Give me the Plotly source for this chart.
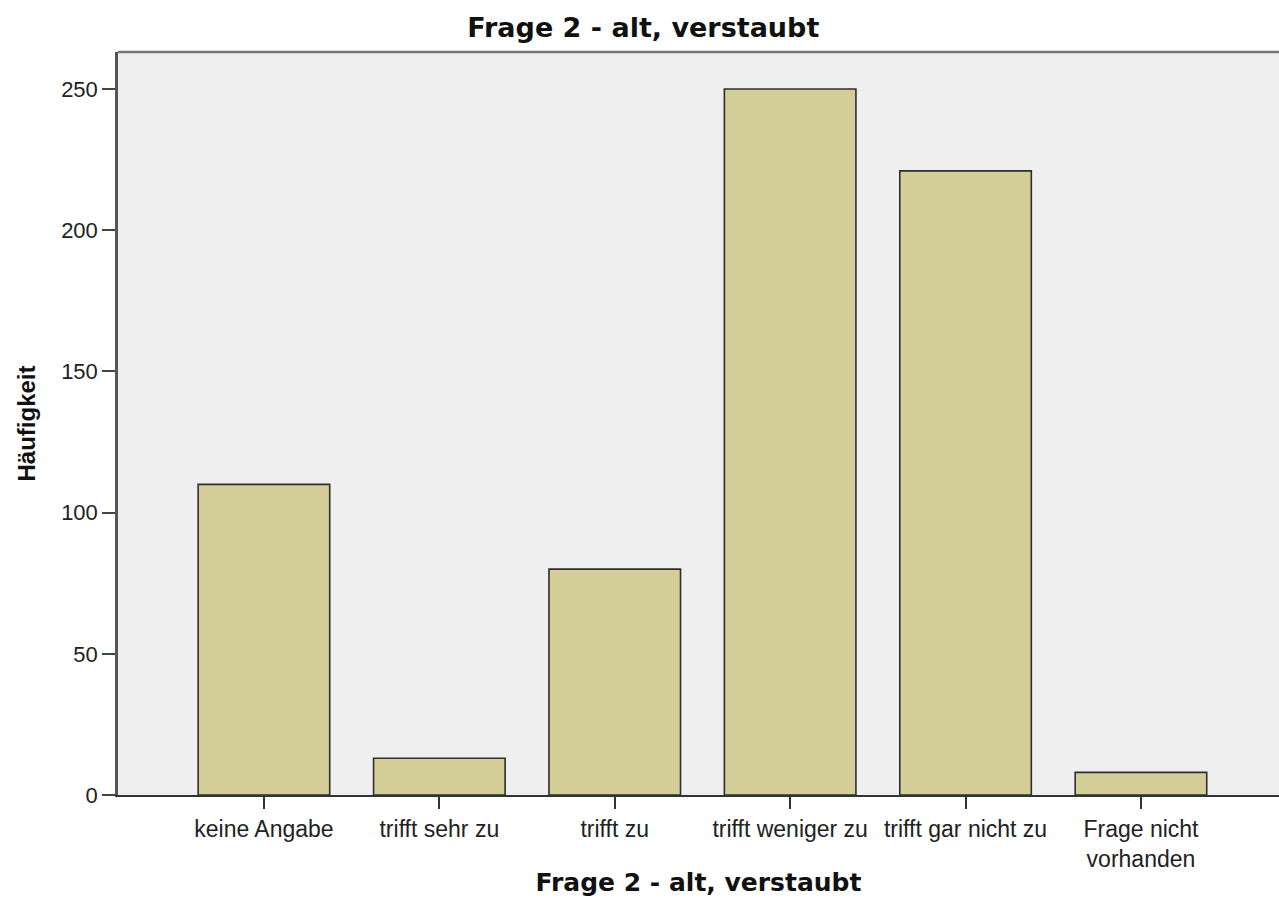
import plotly.graph_objects as go

categories = ["keine Angabe", "trifft sehr zu", "trifft zu", "trifft weniger zu",
              "trifft gar nicht zu", "Frage nicht<br>vorhanden"]
counts = [110, 13, 80, 250, 221, 8]
y_ticks = [0, 50, 100, 150, 200, 250]

chart_title = "Frage 2 - alt, verstaubt"
x_title = "Frage 2 - alt, verstaubt"
y_title = "Häufigkeit"

fig = go.Figure()
fig.add_trace(go.Bar(
    x=list(range(len(categories))),
    y=counts,
    width=0.75,
    marker=dict(color="#D3CE98", line=dict(color="#2E2E2E", width=1.6)),
    hoverinfo="y",
))

fig.update_layout(
    width=1279, height=902,
    margin=dict(l=118, r=0, t=52, b=107),
    paper_bgcolor="white",
    plot_bgcolor="#EFEFEF",
    showlegend=False,
    title=dict(text=chart_title, xref="container", x=0.503, xanchor="center",
               yref="container", y=1 - 28 / 902, yanchor="middle",
               font=dict(family="DejaVu Sans", size=27, color="#111111", weight="bold")),
    font=dict(family="Liberation Sans, Arial", color="#222222"),
)

fig.update_xaxes(
    range=[-0.832, 5.787],
    tickmode="array",
    tickvals=list(range(len(categories))),
    ticktext=categories,
    tickfont=dict(size=23, family="Liberation Sans, Arial", color="#222222"),
    ticks="outside", ticklen=12, tickwidth=2, tickcolor="#333333",
    showline=True, linecolor="#333333", linewidth=2,
    showgrid=False, zeroline=False,
    title=dict(text=x_title, standoff=3,
               font=dict(family="DejaVu Sans", size=25, color="#111111", weight="bold")),
)

fig.update_yaxes(
    range=[0, 263.1],
    tickmode="array",
    tickvals=y_ticks,
    tickfont=dict(size=22, family="Liberation Sans, Arial", color="#222222"),
    ticks="outside", ticklen=13, tickwidth=2, tickcolor="#444444",
    showline=True, linecolor="#555555", linewidth=2.5,
    showgrid=False, zeroline=False,
    title=dict(text=y_title, standoff=19,
               font=dict(family="Liberation Sans, Arial", size=24, color="#111111", weight="bold")),
)

fig.add_shape(type="line", xref="paper", yref="paper", x0=0, x1=1, y0=1, y1=1,
              line=dict(color="#777777", width=2.5))

fig.write_html("out.html", config={"displayModeBar": False},
               post_script="document.body.style.margin='0';document.body.style.overflow='hidden';")
